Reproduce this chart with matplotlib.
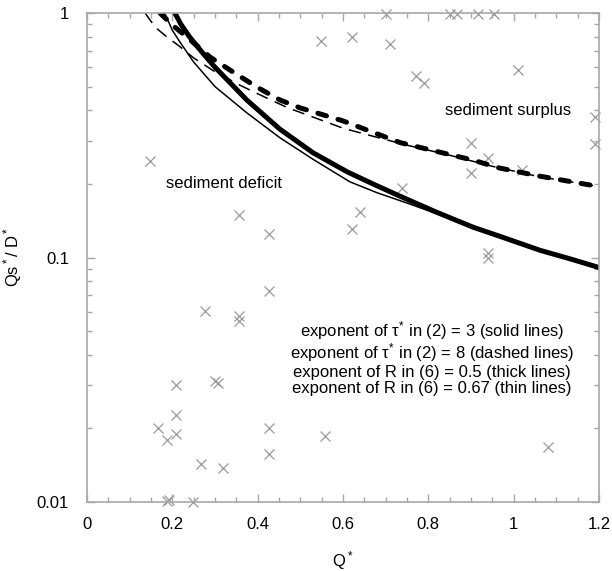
import matplotlib
matplotlib.use("Agg")
import matplotlib.pyplot as plt
from matplotlib.ticker import FixedLocator, MultipleLocator, FixedFormatter, LogLocator, NullFormatter

plt.rcParams['font.family'] = ['Liberation Sans', 'DejaVu Sans']
plt.rcParams['mathtext.fontset'] = 'custom'
plt.rcParams['mathtext.rm'] = 'Liberation Sans'
plt.rcParams['mathtext.it'] = 'Liberation Sans'
plt.rcParams['mathtext.bf'] = 'Liberation Sans'

# ---- data: observed points ----
obs_q = [0.148, 0.548, 0.62, 0.356, 0.427, 0.62, 0.64, 0.70, 0.85, 0.867, 0.917, 0.954,
         0.71, 0.771, 0.79, 1.01, 1.19, 1.19, 0.90, 0.94, 0.90, 1.02, 0.738, 0.94, 0.94,
         0.427, 0.277, 0.356, 0.356, 0.30, 0.307, 0.209, 0.209, 0.166, 0.209, 0.187,
         0.427, 0.427, 0.267, 0.319, 0.558, 0.187, 0.192, 0.248, 1.08]
obs_qs = [0.248, 0.768, 0.80, 0.149, 0.125, 0.131, 0.153, 0.99, 0.99, 0.99, 0.99, 0.99,
          0.747, 0.552, 0.517, 0.585, 0.376, 0.291, 0.294, 0.255, 0.221, 0.228, 0.192, 0.104, 0.100,
          0.0729, 0.0604, 0.0576, 0.055, 0.0313, 0.0307, 0.0301, 0.0227, 0.0201, 0.019, 0.018,
          0.0201, 0.0157, 0.0143, 0.0138, 0.0186, 0.0101, 0.0102, 0.0100, 0.0168]

# ---- data: model curves ----
# exponent of tau* = 3, R exponent 0.5 (thick solid)
q_solid_thick = [0.206, 0.22, 0.24, 0.27, 0.30, 0.375, 0.452, 0.53, 0.61, 0.67, 0.734, 0.82, 0.905, 0.968, 1.062, 1.13, 1.2]
y_solid_thick = [1.0, 0.90, 0.80, 0.69, 0.60, 0.44, 0.335, 0.268, 0.224, 0.20, 0.178, 0.153, 0.133, 0.122, 0.107, 0.099, 0.091]
# exponent of tau* = 3, R exponent 0.67 (thin solid)
q_solid_thin = [0.182, 0.2, 0.218, 0.25, 0.3, 0.375, 0.452, 0.53, 0.616, 0.68, 0.75, 0.82, 0.905, 0.968, 1.062, 1.2]
y_solid_thin = [1.0, 0.85, 0.76, 0.63, 0.50, 0.39, 0.309, 0.252, 0.204, 0.184, 0.167, 0.151, 0.133, 0.122, 0.108, 0.092]
# exponent of tau* = 8, R exponent 0.5 (thick dashed)
q_dash_thick = [0.171, 0.2, 0.234, 0.288, 0.342, 0.398, 0.452, 0.5, 0.6, 0.734, 0.905, 0.968, 1.062, 1.2]
y_dash_thick = [1.0, 0.893, 0.798, 0.661, 0.574, 0.498, 0.441, 0.409, 0.362, 0.295, 0.25, 0.232, 0.215, 0.195]
# exponent of tau* = 8, R exponent 0.67 (thin dashed)
q_dash_thin = [0.136, 0.16, 0.19, 0.215, 0.25, 0.30, 0.36, 0.42, 0.47, 0.53, 0.6, 0.68, 0.75, 0.85, 0.95, 1.06, 1.2]
y_dash_thin = [1.0, 0.875, 0.79, 0.735, 0.655, 0.575, 0.505, 0.45, 0.41, 0.375, 0.338, 0.31, 0.288, 0.262, 0.236, 0.214, 0.195]

x_ticks = [0, 0.2, 0.4, 0.6, 0.8, 1.0, 1.2]
x_ticklabels = ['0', '0.2', '0.4', '0.6', '0.8', '1', '1.2']
y_ticks = [0.01, 0.1, 1]
y_ticklabels = ['0.01', '0.1', '1']

fig = plt.figure(figsize=(6.12, 5.71), dpi=100)
ax = fig.add_axes([87/612, 1 - 502/571, (599-87)/612, (502-13)/571])

ax.set_yscale('log')
ax.set_xlim(0, 1.2)
ax.set_ylim(0.01, 1)

ax.plot(q_solid_thin, y_solid_thin, color='black', lw=1.1, solid_joinstyle='round')
ax.plot(q_dash_thin, y_dash_thin, color='black', lw=1.1, dashes=(8, 5))
ax.plot(q_solid_thick, y_solid_thick, color='black', lw=3.6, solid_capstyle='round',
        solid_joinstyle='round')
ax.plot(q_dash_thick, y_dash_thick, color='black', lw=3.6, dashes=(1.8, 2.4), dash_capstyle='round')

ax.plot(obs_q, obs_qs, linestyle='none', marker='x', color='#9a9a9a', markersize=6.5,
        markeredgewidth=0.9, clip_on=False, zorder=1)

for s in ax.spines.values():
    s.set_color('#a8a8a8')
    s.set_linewidth(1.2)

ax.xaxis.set_major_locator(FixedLocator(x_ticks))
ax.xaxis.set_major_formatter(FixedFormatter(x_ticklabels))
ax.xaxis.set_minor_locator(MultipleLocator(0.05))
ax.yaxis.set_major_locator(FixedLocator(y_ticks))
ax.yaxis.set_major_formatter(FixedFormatter(y_ticklabels))
ax.yaxis.set_minor_locator(LogLocator(base=10, subs=range(2, 10)))
ax.yaxis.set_minor_formatter(NullFormatter())

ax.tick_params(which='both', direction='in', top=True, right=True, color='#a8a8a8',
               labelsize=12, labelcolor='black')
ax.tick_params(which='major', length=6, width=1, pad=11)
ax.tick_params(axis='y', which='major', pad=13)
ax.tick_params(which='minor', length=3.5, width=1)

ax.set_xlabel('Q$^*$', fontsize=12, labelpad=12)
ax.set_ylabel('Qs$^*$/ D$^*$', fontsize=12, labelpad=9)

ax.text(0.32, 0.20, 'sediment deficit', fontsize=12, ha='center', va='center')
ax.text(0.987, 0.40, 'sediment surplus', fontsize=12, ha='center', va='center')

lines = [r'exponent of $\tau^{*}$ in (2) = 3 (solid lines)',
         r'exponent of $\tau^{*}$ in (2) = 8 (dashed lines)',
         'exponent of R in (6) = 0.5 (thick lines)',
         'exponent of R in (6) = 0.67 (thin lines)']
ys_px = [331, 353, 372, 389]
for t, yp in zip(lines, ys_px):
    fig.text(432/612, 1 - yp/571, t, fontsize=12, ha='center', va='center')

fig.savefig('out.png', dpi=100)
